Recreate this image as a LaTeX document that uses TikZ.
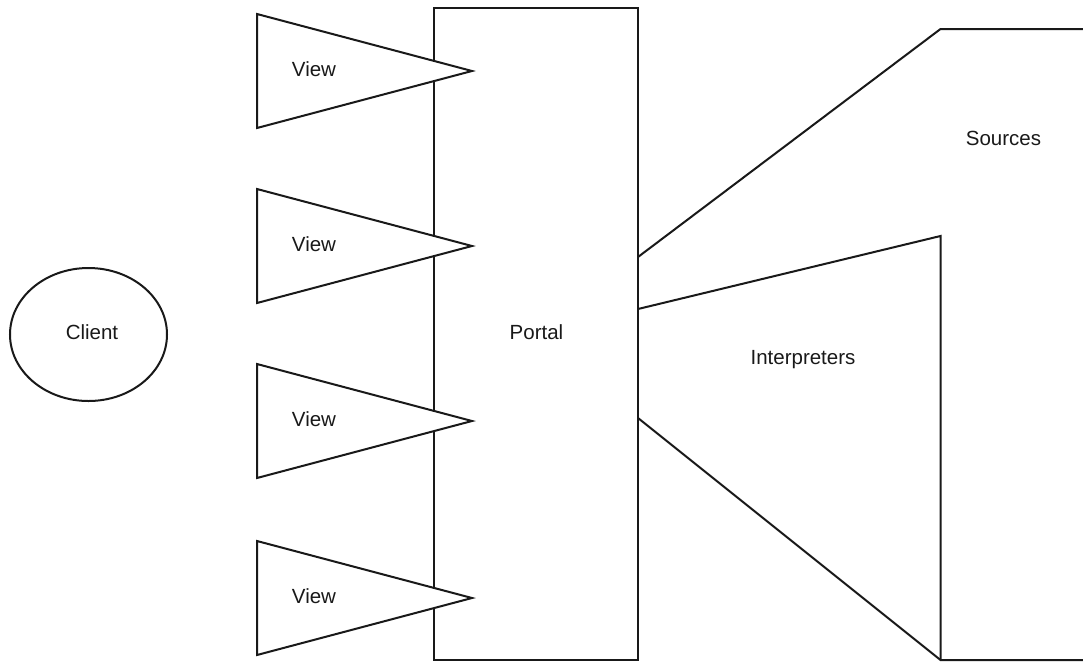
\documentclass[tikz,border=0pt]{standalone}
\usepackage{fontspec}
\setmainfont{Liberation Sans}
\begin{document}
\begin{tikzpicture}[x=1pt,y=-1pt,
  shape line/.style={draw=black!90, line width=2pt, line join=miter},
  label text/.style={inner sep=0pt, font=\fontsize{20.5}{24}\selectfont, text=black!90}]
\useasboundingbox (0,0) rectangle (1083,662);
% Portal
\draw[shape line] (434,8) rectangle (638,660);
\node[label text] (portal) at (536.5,332) {Portal};
% Views
\foreach \y/\n in {71/1,246/2,421/3,598/4}{
  \draw[shape line, fill=white] (257,\y-57) -- (472,\y) -- (257,\y+57) -- cycle;
  \node[label text] (view\n) at (314,\y-2) {View};
}
% Client
\draw[shape line] (88.5,334.5) ellipse [x radius=78.5, y radius=66.5];
\node[label text] (client) at (92,332) {Client};
% Sources
\draw[shape line] (638,257) -- (940.5,29) -- (1090,29);
\draw[shape line] (638,418) -- (940.5,660) -- (1090,660);
\node[label text] (sources) at (1003.5,138) {Sources};
% Interpreters
\draw[shape line] (638,309) -- (940.5,236) -- (940.5,660);
\node[label text] (interp) at (803,360) {Interpreters};
\end{tikzpicture}
\end{document}
